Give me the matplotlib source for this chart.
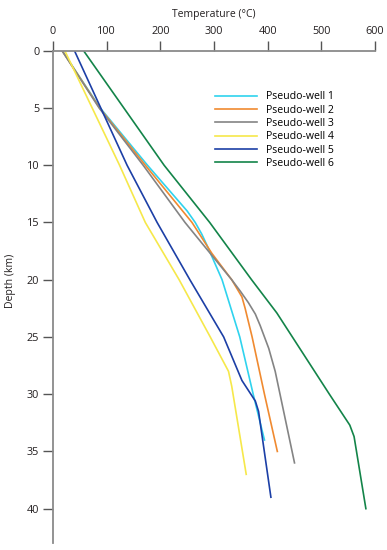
import matplotlib.pyplot as plt

plt.rcParams["font.family"] = ["Open Sans", "DejaVu Sans"]

# Temperature-depth profiles
depth_1 = [0, 5, 10, 14, 15, 16, 17, 20, 25, 30, 34]
temp_1 = [17, 88, 176, 250, 265, 277, 287, 315, 348, 373, 394]

depth_2 = [0, 5, 10, 15, 17.7, 20, 21.5, 22.5, 25, 30, 35]
temp_2 = [17, 87, 172, 259, 296, 333, 352, 358, 371, 394, 418]

depth_3 = [0, 5, 10, 15, 20, 21, 22, 23, 24, 25, 26, 28, 30, 36]
temp_3 = [17, 86, 168, 246, 333, 349, 364, 377, 386, 394, 402, 414, 423, 450]

depth_4 = [0, 5, 10, 15, 20, 25, 28, 29.3, 37]
temp_4 = [22, 73, 124, 172, 235, 293, 327, 333, 360]

depth_5 = [0, 5, 10, 15, 20, 25, 28.8, 30.6, 31.5, 39]
temp_5 = [40, 89, 138, 194, 255, 318, 352, 377, 383, 406]

depth_6 = [0, 5, 10, 15, 20, 22.9, 25, 30, 32.7, 33.7, 40]
temp_6 = [57, 132, 207, 292, 370, 417, 446, 515, 553, 561, 583]

labels = ["Pseudo-well 1", "Pseudo-well 2", "Pseudo-well 3",
          "Pseudo-well 4", "Pseudo-well 5", "Pseudo-well 6"]
colors = ["#2fd3ee", "#f08a30", "#848484", "#f6e84a", "#1c3fa6", "#138449"]

profiles = [(temp_1, depth_1), (temp_2, depth_2), (temp_3, depth_3),
            (temp_4, depth_4), (temp_5, depth_5), (temp_6, depth_6)]

fig = plt.figure(figsize=(3.87, 5.5), dpi=100)
ax = fig.add_axes([0.137, 0.0127, 0.832, 0.895])

for (t, d), lab, c in zip(profiles, labels, colors):
    ax.plot(t, d, color=c, lw=1.2, label=lab)

ax.set_xlim(0, 600)
ax.set_ylim(43, 0)
ax.set_xticks(range(0, 601, 100))
ax.set_yticks(range(0, 41, 5))

ax.xaxis.tick_top()
ax.xaxis.set_label_position("top")
for s in ["right", "bottom"]:
    ax.spines[s].set_visible(False)
for s in ["top", "left"]:
    ax.spines[s].set_color("#8a8a8a")
    ax.spines[s].set_linewidth(1.3)

ax.tick_params(axis="both", direction="out", length=7, width=1.0,
               color="#555555", labelsize=7.8, labelcolor="#231f20")
ax.tick_params(axis="x", pad=3)
ax.tick_params(axis="y", pad=3)

ax.set_xlabel("Temperature (°C)", fontsize=7.5, color="#231f20", labelpad=6.5)
ax.set_ylabel("Depth (km)", fontsize=7.6, color="#231f20")
ax.yaxis.set_label_coords(-0.115, 0.532)

ax.legend(loc="upper left", bbox_to_anchor=(0.5556, 0.834),
          bbox_transform=fig.transFigure, frameon=False, fontsize=7.6,
          handlelength=4.0, handletextpad=0.85, labelspacing=0.22,
          borderpad=0, borderaxespad=0)

fig.savefig("out.png", dpi=100)
